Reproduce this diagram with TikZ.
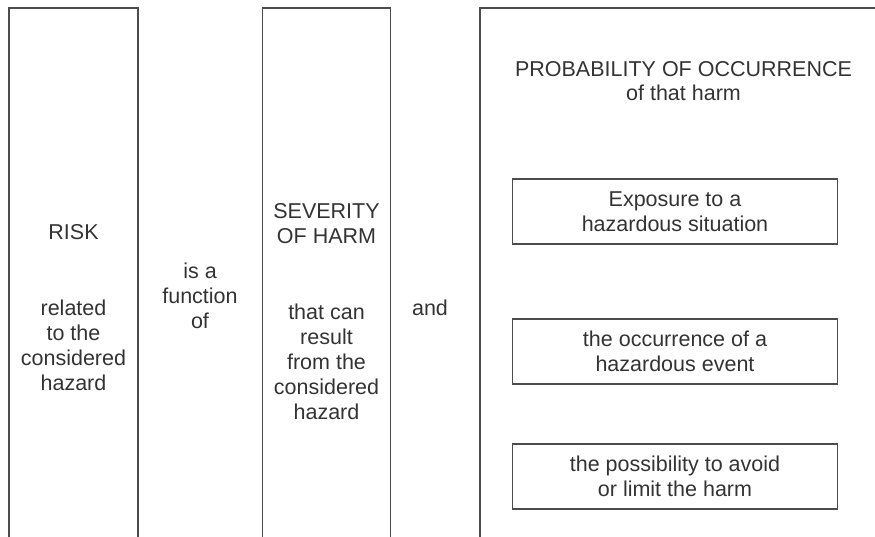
\documentclass[tikz,border=0pt]{standalone}
\usepackage{fontspec}
\setmainfont{Liberation Sans}
\colorlet{FrameLine}{black!70}
\colorlet{LabelText}{black!80}
\tikzset{
    frame line/.style={draw=FrameLine, line width=1.6pt},
    column text/.style={align=center, anchor=base, text=LabelText,
        font=\fontsize{21.5}{25}\selectfont},
    factor box/.style={frame line, minimum width=325pt, minimum height=65pt,
        inner sep=0pt, align=center, text=LabelText,
        font=\fontsize{21.5}{25}\selectfont},
}

\begin{document}
\begin{tikzpicture}[x=1pt, y=-1pt]
\useasboundingbox (0,0) rectangle (875,536);

% Columnas, abiertas por abajo
\foreach \l/\r in {9/138, 262.5/390.5, 480/890}
    \draw[frame line] (\l,540) -- (\l,8) -- (\r,8) -- (\r,540);

% Textos de las columnas (base = ultima linea)
\node[column text] (risk) at (73.5,239) {RISK};
\node[column text] (risk note) at (73.5,390) {related\\to the\\considered\\hazard};
\node[column text] (function) at (200,328.5) {is a\\function\\of};
\node[column text] (severity) at (326.5,243.5) {SEVERITY\\OF HARM};
\node[column text] (severity note) at (326.5,419)
    {that can\\result\\from the\\considered\\hazard};
\node[column text] (and) at (430,315) {and};
\node[column text, font=\fontsize{21.5}{23.5}\selectfont] (probability)
    at (683.5,100) {PROBABILITY OF OCCURRENCE\\of that harm};

% Factores de la probabilidad
\node[factor box] (exposure) at (675,211.7) {Exposure to a\\hazardous situation};
\node[factor box] (event) at (675,351.5) {the occurrence of a\\hazardous event};
\node[factor box] (avoid) at (675,476.5) {the possibility to avoid\\or limit the harm};
\end{tikzpicture}
\end{document}
